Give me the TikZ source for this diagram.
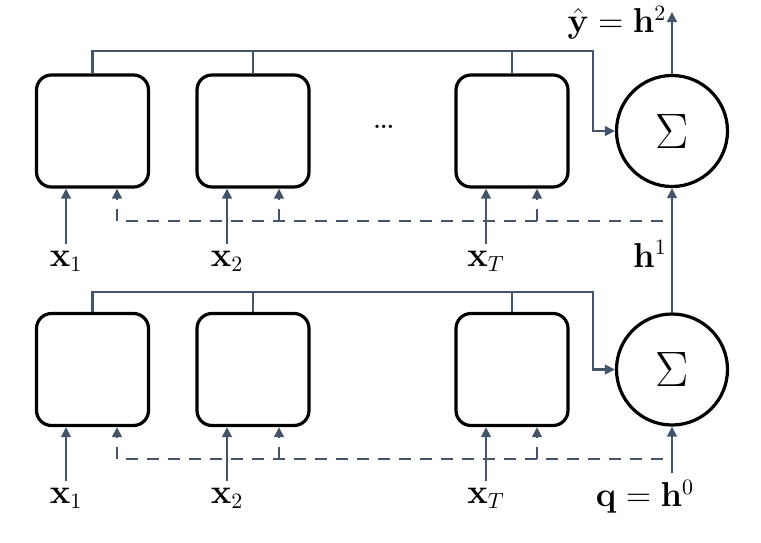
\documentclass[tikz,border=0pt]{standalone}
\definecolor{LinkGray}{HTML}{44546A}
\usepackage{tikz}
\usetikzlibrary{arrows.meta}

\begin{document}
\begin{tikzpicture}[x=0.5pt, y=-0.5pt, font=\fontsize{16}{19}\selectfont]
        \tikzstyle{cell} = [rectangle, draw, line width=1.6pt, rounded corners=7.5pt,
            minimum width=56pt, minimum height=56pt]
        \tikzstyle{sum} = [circle, draw, line width=1.6pt, minimum size=55.5pt,
            font=\fontsize{25}{28}\selectfont]
        \tikzstyle{bus} = [draw, LinkGray, line width=1.25pt]
        \tikzstyle{line} = [bus, -{Triangle[length=5pt,width=4.8pt]}]
        \tikzstyle{fback} = [line, dash pattern=on 6pt off 4.5pt]

        \useasboundingbox (0,0) rectangle (761,542);

        % upper layer
        \node [cell] (a1) at (92.5,131) {};
        \node [cell] (a2) at (253,131) {};
        \node [cell] (a3) at (512,131) {};
        \node [font=\fontsize{20}{22}\selectfont] (dotsa) at (384,127) {\dots};
        \node [sum] (s2) at (672,131) {$\Sigma$};

        \node (xa1) at (66,261) {$\mathbf{x}_1$};
        \node (xa2) at (227,261) {$\mathbf{x}_2$};
        \node (xa3) at (486,261) {$\mathbf{x}_T$};
        \node (h1) at (650,254) {$\mathbf{h}^1$};
        \node (yhat) at (617,23) {$\hat{\mathbf{y}} = \mathbf{h}^2$};

        % lower layer
        \node [cell] (b1) at (92.5,369.5) {};
        \node [cell] (b2) at (253,369.5) {};
        \node [cell] (b3) at (512,369.5) {};
        \node [sum] (s1) at (672,369.5) {$\Sigma$};

        \node (xb1) at (66,498) {$\mathbf{x}_1$};
        \node (xb2) at (227,498) {$\mathbf{x}_2$};
        \node (xb3) at (486,498) {$\mathbf{x}_T$};
        \node (q) at (645,497) {$\mathbf{q} = \mathbf{h}^0$};

        \coordinate (ta) at (593,51);
        \coordinate (tb) at (593,292);
        \coordinate (fa) at (663,221);
        \coordinate (fb) at (663,459);
        \coordinate (yout) at (672,12);

        % outputs to the sums
        \path [line] (a1.north) |- (ta) |- (s2.west);
        \path [bus] (a2.north) -- (a2.north |- ta);
        \path [bus] (a3.north) -- (a3.north |- ta);
        \path [line] (b1.north) |- (tb) |- (s1.west);
        \path [bus] (b2.north) -- (b2.north |- tb);
        \path [bus] (b3.north) -- (b3.north |- tb);

        \path [line] (q.north -| s1.south) -- (s1.south);
        \path [line] (s1.north) -- (s2.south);
        \path [line] (s2.north) -- (yout);

        % inputs
        \path [line] (xa1.north) -- (xa1.north |- a1.south);
        \path [line] (xa2.north) -- (xa2.north |- a2.south);
        \path [line] (xa3.north) -- (xa3.north |- a3.south);
        \path [line] (xb1.north) -- (xb1.north |- b1.south);
        \path [line] (xb2.north) -- (xb2.north |- b2.south);
        \path [line] (xb3.north) -- (xb3.north |- b3.south);

        % query fed back to every cell
        \path [fback] (fa) -| (a1.south -| 117,0);
        \path [fback] (279,221) -- (a2.south -| 279,0);
        \path [fback] (537,221) -- (a3.south -| 537,0);
        \path [fback] (fb) -| (b1.south -| 117,0);
        \path [fback] (279,459) -- (b2.south -| 279,0);
        \path [fback] (537,459) -- (b3.south -| 537,0);
    \end{tikzpicture}
\end{document}
